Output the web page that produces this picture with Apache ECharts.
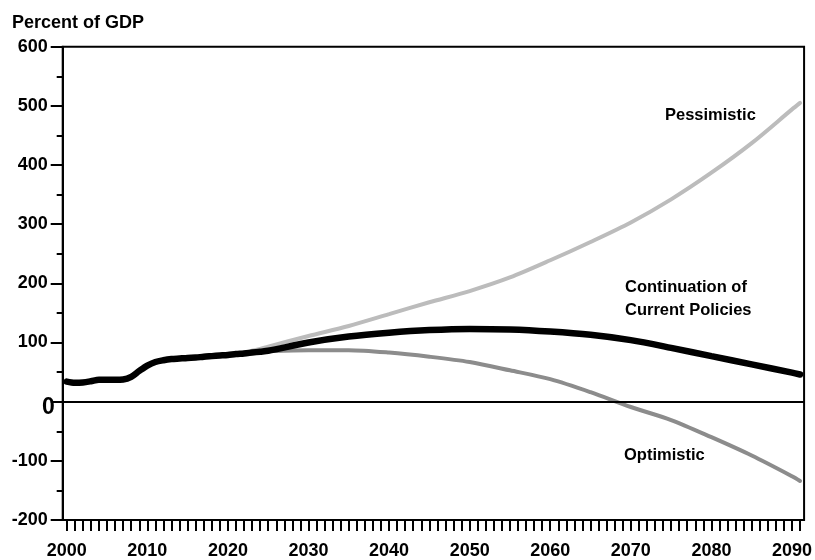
<!DOCTYPE html>
<html>
<head>
<meta charset="utf-8">
<script src="https://cdn.jsdelivr.net/npm/echarts@6/dist/echarts.min.js"></script>
<style>
html,body{margin:0;padding:0;background:#fff;}
#c{width:815px;height:560px;}
</style>
</head>
<body>
<div id="c"></div>
<script>
// Year categories on the axis (one band per year)
const axisYears = [];
for (let y = 2000; y <= 2091; y++) axisYears.push(String(y));

// Sample years where values were read
const years = [2000,2001,2002,2003,2004,2005,2006,2007,2008,2009,2010,2011,2012,2013,2014,2015,2016,2017,2018,2019,2020,2021,2022,2023,2024,2025,
               2030,2035,2040,2045,2050,2055,2060,2065,2070,2075,2080,2085,2090,2091];

const currentPolicies = [34,32,32.5,34.5,37,37,37,37.5,42,52,61,67,70,72,73,74,74.5,76,77,78,79,80.5,81.5,83,84.5,86,
                         100,110,116.5,121,123,122,118.5,113,104,91,77,63,49,46];

const pessimistic = [null,null,null,null,null,null,null,null,null,null,null,null,null,null,null,null,null,null,null,null,79,81,83,86,89,93,
                     111,128,148,168,187,210,239,270,303,342,387,437,494,505];

const optimistic = [null,null,null,null,null,null,null,null,null,null,null,null,null,null,null,null,null,null,null,null,79,80.5,81.5,83,84.5,85.5,
                    87,87,83,76,67,53,38,16,-9,-31,-60,-91,-126,-134];

const yTicks = {min: -200, max: 600, interval: 100};

function pairs(vals) {
  const out = [];
  years.forEach((y, i) => { if (vals[i] !== null) out.push([y - 2000, vals[i]]); });
  return out;
}

const FONT = '"Liberation Sans", Arial, Helvetica, sans-serif';
const chart = echarts.init(document.getElementById('c'), null, {renderer: 'canvas'});
chart.setOption({
  animation: false,
  backgroundColor: '#fff',
  title: {
    text: 'Percent of GDP',
    left: 12, top: 14,
    padding: 0,
    textStyle: {fontFamily: FONT, fontSize: 18, fontWeight: 'bold', color: '#000'}
  },
  grid: {
    left: 62.7, right: 7.7, top: 46.7, bottom: 37.7,
    show: true, borderColor: '#000', borderWidth: 2, backgroundColor: 'transparent'
  },
  xAxis: {
    type: 'category',
    data: axisYears,
    boundaryGap: true,
    axisLine: {show: true, onZero: false, lineStyle: {color: '#000', width: 2}},
    axisTick: {show: true, alignWithLabel: true, interval: 0, length: 11, lineStyle: {color: '#000', width: 2}},
    axisLabel: {
      interval: 9, margin: 22,
      fontFamily: FONT, fontSize: 18, fontWeight: 'bold', color: '#000'
    },
    splitLine: {show: false}
  },
  yAxis: {
    type: 'value',
    min: yTicks.min, max: yTicks.max, interval: yTicks.interval,
    axisLine: {show: true, lineStyle: {color: '#000', width: 2}},
    axisTick: {show: true, length: 12, lineStyle: {color: '#000', width: 2}},
    minorTick: {show: true, splitNumber: 2, length: 6, lineStyle: {color: '#000', width: 2}},
    splitLine: {show: false},
    axisLabel: {
      margin: 8,
      fontFamily: FONT, fontSize: 18, fontWeight: 'bold', color: '#000',
      formatter: v => v === 0 ? '{z|0}' : '{n|' + v + '}',
      rich: {
        n: {fontFamily: FONT, fontSize: 18, fontWeight: 'bold', color: '#000', padding: [0, 7, 0, 0]},
        z: {fontFamily: FONT, fontSize: 23, fontWeight: 'bold', color: '#000', padding: [12, 0, 0, 0]}
      }
    }
  },
  series: [
    {
      name: 'Pessimistic', type: 'line', data: pairs(pessimistic),
      smooth: 0.3, showSymbol: false, symbol: 'none',
      lineStyle: {color: '#bcbcbc', width: 4, cap: 'round'}, z: 2
    },
    {
      name: 'Optimistic', type: 'line', data: pairs(optimistic),
      smooth: 0.3, showSymbol: false, symbol: 'none',
      lineStyle: {color: '#8c8c8c', width: 4, cap: 'round'}, z: 3
    },
    {
      name: 'Continuation of Current Policies', type: 'line', data: pairs(currentPolicies),
      smooth: 0.3, showSymbol: false, symbol: 'none',
      lineStyle: {color: '#000', width: 6.5, cap: 'round'}, z: 4,
      markLine: {
        silent: true, symbol: ['none', 'none'], label: {show: false},
        lineStyle: {color: '#000', width: 2, type: 'solid'},
        data: [{yAxis: 0}]
      }
    }
  ],
  graphic: [
    {type: 'text', x: 665, y: 115, style: {text: 'Pessimistic', font: 'bold 16.5px ' + FONT, fill: '#000', verticalAlign: 'middle'}},
    {type: 'text', x: 625, y: 298.5, style: {text: 'Continuation of\nCurrent Policies', font: 'bold 16.5px ' + FONT, fill: '#000', verticalAlign: 'middle', lineHeight: 23}},
    {type: 'text', x: 624, y: 455, style: {text: 'Optimistic', font: 'bold 16.5px ' + FONT, fill: '#000', verticalAlign: 'middle'}}
  ]
});
</script>
</body>
</html>
